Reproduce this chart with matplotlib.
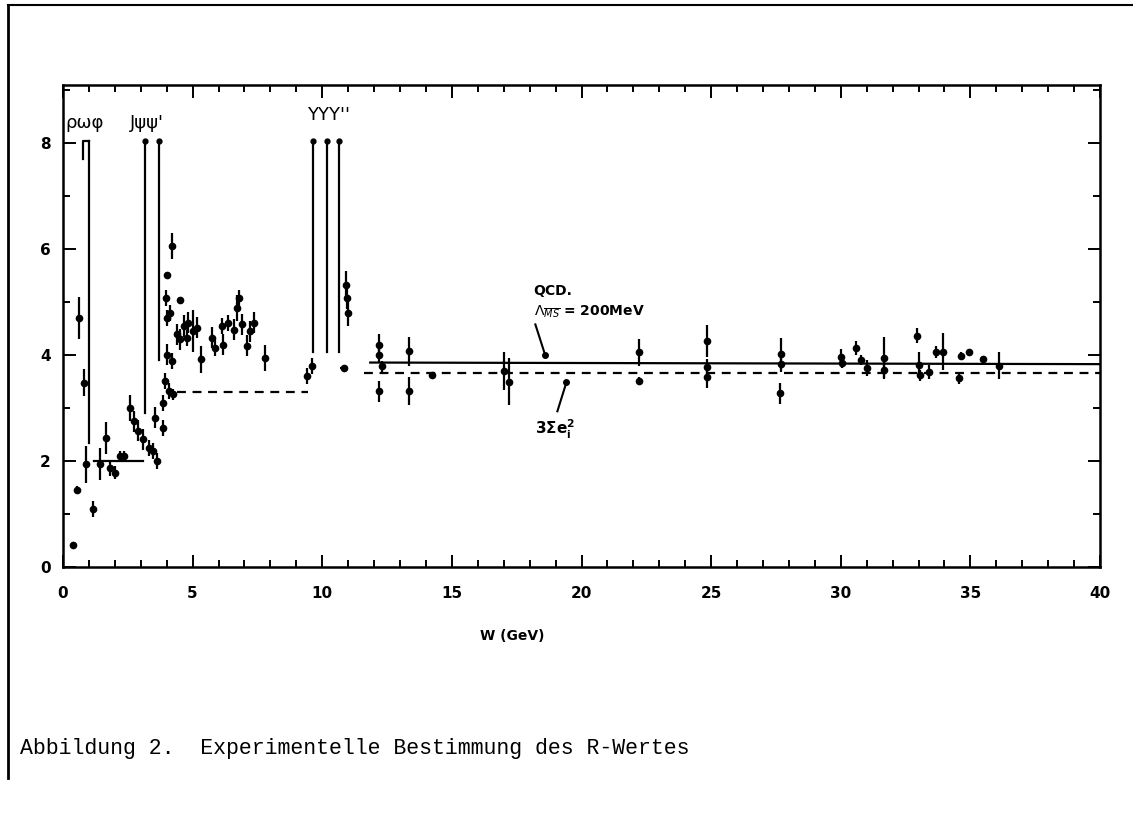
import matplotlib
matplotlib.use("Agg")
import matplotlib.pyplot as plt
from matplotlib.lines import Line2D

# measured points: W (GeV), R, error on R
w_data = [0.39, 0.53, 0.63, 0.81, 0.89, 1.17, 1.43, 1.66, 1.81, 2.00, 2.20, 2.36,
          2.59, 2.72, 2.91, 3.10, 3.30, 3.49, 3.62, 3.55, 3.85, 3.87, 3.94, 4.07,
          4.26, 4.00, 4.20, 4.00, 4.13, 3.96, 4.03, 4.52, 4.20, 4.39, 4.65, 4.84,
          5.03, 5.16, 4.52, 4.78, 5.33, 5.74, 5.87, 6.19, 6.13, 6.38, 6.58, 6.71,
          6.77, 6.90, 7.22, 7.35, 7.09, 7.80, 9.40, 9.60, 10.90, 10.95, 11.00,
          12.17, 12.17, 12.30, 12.17, 13.33, 13.33, 14.23, 17.00, 17.20,
          22.20, 22.20, 24.85, 24.85, 24.85, 27.70, 27.70, 27.65,
          30.00, 30.05, 30.60, 30.77, 31.00, 31.67, 31.67, 32.96, 33.00, 33.06,
          33.40, 33.67, 33.93, 34.65, 34.95, 34.57, 35.47, 36.10]
r_data = [0.42, 1.45, 4.70, 3.48, 1.94, 1.10, 1.94, 2.44, 1.87, 1.78, 2.09, 2.09,
          3.00, 2.75, 2.57, 2.41, 2.25, 2.19, 2.00, 2.82, 2.63, 3.10, 3.51, 3.32,
          3.26, 4.01, 3.89, 4.70, 4.80, 5.08, 5.52, 5.05, 6.06, 4.39, 4.55, 4.61,
          4.45, 4.52, 4.30, 4.33, 3.92, 4.33, 4.14, 4.20, 4.55, 4.61, 4.48, 4.89,
          5.08, 4.58, 4.45, 4.61, 4.18, 3.95, 3.60, 3.80, 5.33, 5.08, 4.80,
          4.20, 4.01, 3.79, 3.32, 4.07, 3.32, 3.63, 3.70, 3.50,
          4.05, 3.52, 4.27, 3.77, 3.58, 4.03, 3.84, 3.28,
          3.97, 3.85, 4.13, 3.91, 3.75, 3.94, 3.72, 4.37, 3.81, 3.62,
          3.68, 4.06, 4.06, 3.99, 4.06, 3.56, 3.92, 3.80]
r_err = [0.05, 0.08, 0.40, 0.25, 0.35, 0.15, 0.30, 0.30, 0.15, 0.12, 0.10, 0.10,
         0.25, 0.20, 0.20, 0.20, 0.15, 0.15, 0.15, 0.20, 0.15, 0.15, 0.15, 0.15,
         0.10, 0.20, 0.15, 0.15, 0.15, 0.15, 0.05, 0.05, 0.25, 0.20, 0.20, 0.20,
         0.40, 0.20, 0.20, 0.15, 0.25, 0.20, 0.15, 0.20, 0.15, 0.15, 0.20, 0.25,
         0.15, 0.20, 0.20, 0.20, 0.20, 0.25, 0.15, 0.15, 0.25, 0.20, 0.25,
         0.20, 0.15, 0.10, 0.20, 0.27, 0.27, 0.05, 0.35, 0.45,
         0.25, 0.06, 0.30, 0.15, 0.20, 0.30, 0.15, 0.20,
         0.15, 0.10, 0.13, 0.10, 0.15, 0.40, 0.15, 0.15, 0.25, 0.10,
         0.14, 0.12, 0.35, 0.06, 0.05, 0.10, 0.06, 0.25]

# theory lines
low_w = [1.2, 3.1]
low_r = [2.0, 2.0]
charm_w = [4.4, 9.45]
charm_r = [3.30, 3.30]
sum_w = [11.6, 40.0]
sum_r = [3.66, 3.66]
qcd_w = [11.85, 40.0]
qcd_r = [3.86, 3.83]

# narrow resonances drawn off scale
res_w = [1.00, 3.17, 3.70, 9.65, 10.19, 10.66]
res_bottom = [2.35, 2.90, 3.90, 4.05, 4.05, 4.05]
res_top = 8.05
rho_w = 0.76

fig = plt.figure(figsize=(11.33, 8.21), dpi=100)
ax = fig.add_axes([63 / 1133, 1 - 567 / 821, (1100 - 63) / 1133, (567 - 85) / 821])

ax.plot(low_w, low_r, color="black", lw=1.6)
ax.plot(charm_w, charm_r, color="black", lw=1.6, ls=(0, (4, 3)))
ax.plot(sum_w, sum_r, color="black", lw=1.6, ls=(0, (4, 3)))
ax.plot(qcd_w, qcd_r, color="black", lw=1.6)

for w, b in zip(res_w, res_bottom):
    ax.plot([w, w], [b, res_top], color="black", lw=1.6)
ax.plot(res_w[1:], [res_top] * (len(res_w) - 1), "o", color="black", ms=3.5)
ax.plot([rho_w, rho_w, res_w[0]], [7.7, res_top, res_top], color="black", lw=1.6)

ax.errorbar(w_data, r_data, yerr=r_err, fmt="o", color="black", ms=4.5,
            elinewidth=1.6, capsize=0)
ax.errorbar([10.85], [3.76], xerr=[0.15], fmt="o", color="black", ms=4.5,
            elinewidth=1.6, capsize=0)

lab = dict(color="black", fontsize=13, va="center", ha="left")
ax.text(0.08, 8.38, "ρωφ", **lab)
ax.text(2.59, 8.38, "Jψψ'", **lab)
ax.text(9.42, 8.53, "ΥΥΥ''", **lab)

ax.text(18.15, 5.21, "QCD.", fontsize=10, fontweight="bold", va="center")
ax.text(18.15, 4.83, r"$\Lambda_{\overline{MS}}$ = 200MeV", fontsize=10,
        fontweight="bold", va="center")
ax.plot([18.22, 18.6], [4.58, 4.0], color="black", lw=1.5)
ax.plot([18.6], [4.0], "o", color="black", ms=4)
ax.text(18.2, 2.6, r"$\mathbf{3\Sigma e_i^2}$", fontsize=11, va="center")
ax.plot([19.07, 19.42], [2.94, 3.49], color="black", lw=1.5)
ax.plot([19.42], [3.49], "o", color="black", ms=4)

ax.set_xlim(0, 40)
ax.set_ylim(0, 9.1)
ax.set_xticks(range(0, 41, 5))
ax.set_xticks(range(0, 41), minor=True)
ax.set_yticks(range(0, 9, 2))
ax.set_yticks(range(0, 10), minor=True)
ax.tick_params(which="both", direction="in", top=True, right=True, width=1.4)
ax.tick_params(which="major", length=9)
ax.tick_params(which="minor", length=5)
ax.tick_params(axis="x", pad=14, labelsize=11)
ax.tick_params(axis="y", pad=9, labelsize=11)
for t in ax.get_xticklabels() + ax.get_yticklabels():
    t.set_fontweight("bold")
for s in ax.spines.values():
    s.set_linewidth(1.8)

fig.text(512 / 1133, 1 - 636 / 821, "W (GeV)", fontsize=10, fontweight="bold",
         ha="center", va="center")
fig.text(20 / 1133, 1 - 748 / 821,
         "Abbildung 2.  Experimentelle Bestimmung des R-Wertes",
         family="Liberation Mono", fontsize=15.5, ha="left", va="center")

fig.add_artist(Line2D([8 / 1133, 8 / 1133], [1 - 5 / 821, 1 - 778 / 821],
                      color="black", lw=2, transform=fig.transFigure))
fig.add_artist(Line2D([8 / 1133, 1.0], [1 - 5 / 821, 1 - 5 / 821],
                      color="black", lw=1.5, transform=fig.transFigure))

fig.savefig("out.png", dpi=100)
